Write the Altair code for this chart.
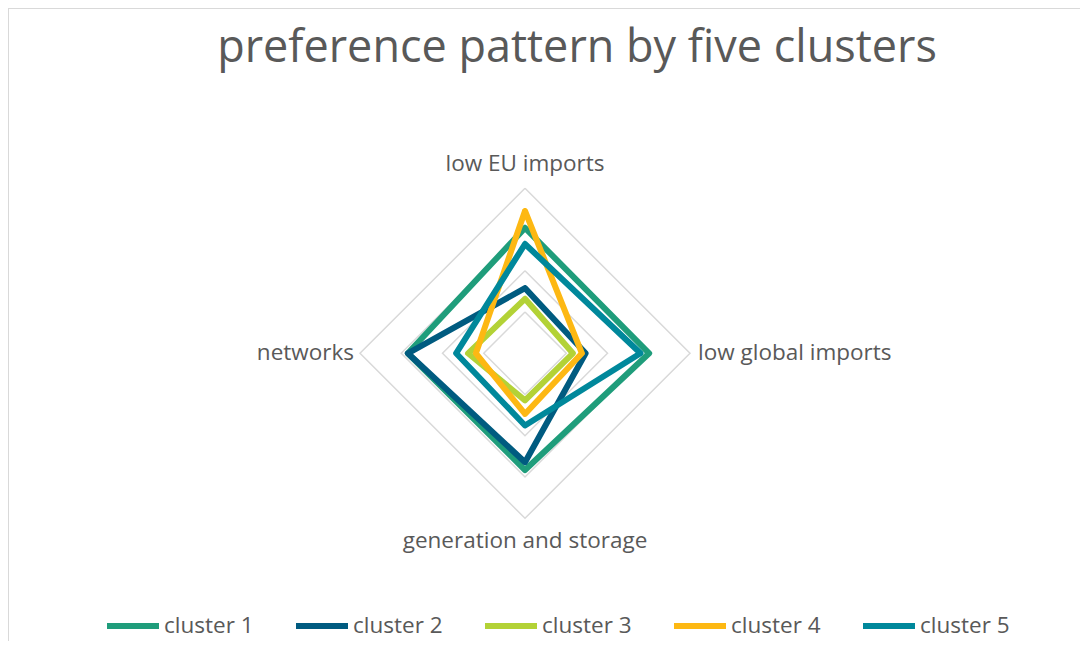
import math
import altair as alt
import pandas as pd

# ---- data ----
categories = ["low EU imports", "low global imports", "generation and storage", "networks"]
clusters = ["cluster 1", "cluster 2", "cluster 3", "cluster 4", "cluster 5"]
cluster1 = [3.04, 3.01, 2.83, 2.84]
cluster2 = [1.58, 1.47, 2.64, 2.84]
cluster3 = [1.32, 1.16, 1.14, 1.38]
cluster4 = [3.45, 1.38, 1.47, 1.19]
cluster5 = [2.65, 2.80, 1.75, 1.67]
grid_levels = [1, 2, 3, 4]
colors = ["#1F9D7B", "#005B80", "#B3D236", "#FDB813", "#00889B"]

series = [cluster1, cluster2, cluster3, cluster4, cluster5]

# ---- layout settings ----
W, H = 1072, 633
CX, CY = 517.0, 345.3     # radar centre inside the chart
UNIT = 41.25              # pixels per value unit
n_axes = len(categories)

rows = []
for name, vals in zip(clusters, series):
    for i in range(n_axes + 1):
        rows.append({"cluster": name, "idx": i, "axis": i % n_axes, "value": vals[i % n_axes]})
lines_df = pd.DataFrame(rows)

grid_rows = []
for lv in grid_levels:
    for i in range(n_axes + 1):
        grid_rows.append({"level": lv, "idx": i, "axis": i % n_axes, "value": lv})
grid_df = pd.DataFrame(grid_rows)

label_df = pd.DataFrame({"category": categories, "axis": list(range(n_axes)),
                         "value": [max(grid_levels)] * n_axes})

xscale = alt.Scale(domain=[-CX / UNIT, (W - CX) / UNIT], nice=False, zero=False)
yscale = alt.Scale(domain=[-(H - CY) / UNIT, CY / UNIT], nice=False, zero=False)

def polar(ch):
    return ch.transform_calculate(
        ang=f"datum.axis * 2 * PI / {n_axes}"
    ).transform_calculate(
        px="datum.value * sin(datum.ang)",
        py="datum.value * cos(datum.ang)",
    )

X = alt.X("px:Q", scale=xscale, axis=None)
Y = alt.Y("py:Q", scale=yscale, axis=None)

grid = polar(alt.Chart(grid_df)).mark_line(
    color="#D9D9D9", strokeWidth=1.5, strokeJoin="miter"
).encode(x=X, y=Y, detail="level:N", order="idx:Q")

lines = polar(alt.Chart(lines_df)).mark_line(
    strokeWidth=6, strokeJoin="round", strokeCap="round"
).encode(
    x=X, y=Y, order="idx:Q",
    color=alt.Color(
        "cluster:N",
        scale=alt.Scale(domain=clusters, range=colors),
        legend=alt.Legend(
            title=None, orient="none", legendX=96, legendY=589,
            direction="horizontal", symbolType="stroke", symbolSize=2704,
            symbolStrokeWidth=6, labelFontSize=22.5, labelFont="Open Sans",
            labelColor="#595959", labelOffset=2, columnPadding=30, padding=0,
        ),
    ),
)

lab_style = dict(font="Open Sans", fontSize=22.5, color="#595959")
lab_base = polar(alt.Chart(label_df))
lab_top = lab_base.transform_filter("datum.axis == 0").mark_text(
    align="center", baseline="bottom", dy=-12, **lab_style).encode(x=X, y=Y, text="category:N")
lab_right = lab_base.transform_filter("datum.axis == 1").mark_text(
    align="left", baseline="middle", dx=8, **lab_style).encode(x=X, y=Y, text="category:N")
lab_bottom = lab_base.transform_filter("datum.axis == 2").mark_text(
    align="center", baseline="top", dy=12, **lab_style).encode(x=X, y=Y, text="category:N")
lab_left = lab_base.transform_filter("datum.axis == 3").mark_text(
    align="right", baseline="middle", dx=-6, **lab_style).encode(x=X, y=Y, text="category:N")

one = pd.DataFrame({"a": [0]})
border_left = alt.Chart(one).mark_rule(color="#D9D9D9", strokeWidth=2).encode(
    x=alt.value(0), y=alt.value(0), y2=alt.value(H))
border_top = alt.Chart(one).mark_rule(color="#D9D9D9", strokeWidth=2).encode(
    x=alt.value(0), x2=alt.value(W), y=alt.value(0))

chart = alt.layer(
    border_left, border_top, grid, lines, lab_top, lab_right, lab_bottom, lab_left
).properties(
    width=W, height=H,
    autosize=alt.AutoSizeParams(type="none"),
    padding=0,
    title=alt.TitleParams(
        "preference pattern by five clusters", font="Open Sans", fontSize=45,
        fontWeight="normal", color="#595959", anchor="middle", frame="group",
        baseline="alphabetic", offset=0, dx=33, dy=100,
    ),
).configure_view(strokeWidth=0).configure_legend(symbolStrokeWidth=6)

chart.save("out.html", embed_options={"renderer": "svg", "actions": False})
